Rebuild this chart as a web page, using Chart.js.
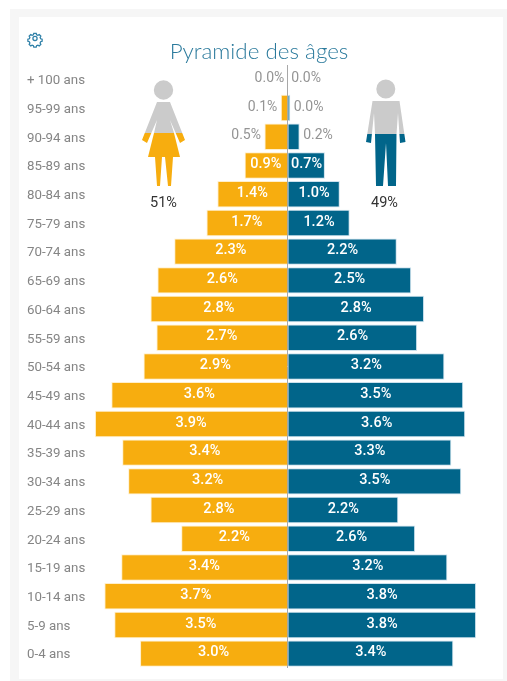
<!DOCTYPE html>
<html><head><meta charset="utf-8">
<script src="https://cdn.jsdelivr.net/npm/chart.js@4"></script>
<style>
html,body{margin:0;padding:0;background:#fff;width:507px;height:681px;overflow:hidden}
#outer{position:absolute;left:10px;top:9px;width:497px;height:672px;background:#f6f6f6}
#card{position:absolute;left:19px;top:17px;width:484px;height:662px;background:#fff}
canvas{position:absolute;left:0;top:0}
#title{position:absolute;left:17px;width:484px;top:37px;text-align:center;font:300 22.4px Lato,sans-serif;color:#2b7a9c}
svg{position:absolute;left:0;top:0}
.pct{font:14.5px Roboto,sans-serif;fill:#333;text-anchor:middle}
</style></head><body>
<div id="outer"></div><div id="card"></div>
<div style="position:absolute;left:0;top:0;width:507px;height:681px"><canvas id="c" width="507" height="681"></canvas></div>
<div id="title">Pyramide des âges</div>
<svg width="507" height="681">
<defs>
<clipPath id="w"><circle cx="163.5" cy="90" r="9.7"/>
<polygon points="157,102 170,102 185,140 180,143 170,120 174,133 180,157 173,157 171,186 168,186 165,157 162,157 160,186 157,186 155,157 148,157 154,133 157,120 147,143 142,140"/></clipPath>
<clipPath id="m"><circle cx="385.8" cy="89" r="9.5"/>
<polygon points="372.5,101 399.5,101 405.5,142 400,143 398,113 396.5,134 396,186 388,186 386,143 383,186 376,186 375,134 374,113 371,143 366,142"/></clipPath>
</defs>
<g clip-path="url(#w)"><rect x="135" y="75" width="60" height="58" fill="#cbcbcb"/><rect x="135" y="133" width="60" height="56" fill="#f7ad0f"/></g>
<g clip-path="url(#m)"><rect x="360" y="75" width="50" height="59" fill="#cbcbcb"/><rect x="360" y="134" width="50" height="55" fill="#01658a"/></g>
<text class="pct" x="163.5" y="207">51%</text><text class="pct" x="384.5" y="207">49%</text>
<g fill="none" stroke="#2f80a8" stroke-width="1.6" transform="translate(35 38.5) scale(.8) translate(-35 -39)">
<circle cx="35" cy="39" r="2.6"/>
<path d="M33.5 32.5h3l.5 1.8 1.6.7 1.7-.9 2 2-.9 1.7.7 1.6 1.8.5v2.6l-1.8.5-.7 1.6.9 1.7-2 2-1.7-.9-1.6.7-.5 1.8h-3l-.5-1.8-1.6-.7-1.7.9-2-2 .9-1.7-.7-1.6-1.8-.5v-2.6l1.8-.5.7-1.6-.9-1.7 2-2 1.7.9 1.6-.7z"/>
</g>
</svg>
<script>
const categories=["+ 100 ans","95-99 ans","90-94 ans","85-89 ans","80-84 ans","75-79 ans","70-74 ans","65-69 ans","60-64 ans","55-59 ans","50-54 ans","45-49 ans","40-44 ans","35-39 ans","30-34 ans","25-29 ans","20-24 ans","15-19 ans","10-14 ans","5-9 ans","0-4 ans"];
const femmes=[0,0.14,0.47,0.87,1.42,1.64,2.29,2.63,2.77,2.65,2.91,3.56,3.89,3.34,3.22,2.77,2.15,3.36,3.70,3.50,2.98];
const hommes=[0,0.05,0.24,0.75,1.05,1.25,2.2,2.49,2.75,2.61,3.16,3.54,3.58,3.3,3.5,2.23,2.57,3.22,3.8,3.8,3.34];
const femmesTxt=["0.0%","0.1%","0.5%","0.9%","1.4%","1.7%","2.3%","2.6%","2.8%","2.7%","2.9%","3.6%","3.9%","3.4%","3.2%","2.8%","2.2%","3.4%","3.7%","3.5%","3.0%"];
const hommesTxt=["0.0%","0.0%","0.2%","0.7%","1.0%","1.2%","2.2%","2.5%","2.8%","2.6%","3.2%","3.5%","3.6%","3.3%","3.5%","2.2%","2.6%","3.2%","3.8%","3.8%","3.4%"];
const labelPlugin={id:'barText',afterDatasetsDraw(chart){
 const ctx=chart.ctx;ctx.save();ctx.textBaseline='middle';
 [femmesTxt,hommesTxt].forEach((txt,d)=>{
  chart.getDatasetMeta(d).data.forEach((bar,i)=>{
   const w=Math.abs(bar.x-bar.base);const y=bar.y-1;
   if(w<30){ctx.fillStyle='#949494';ctx.font='14px Roboto,sans-serif';
    ctx.textAlign=d===0?'right':'left';
    ctx.fillText(txt[i],bar.x+(d===0?-3.5:3.5),y);
   }else{ctx.fillStyle='#fff';ctx.font='500 14.5px Roboto,sans-serif';ctx.textAlign='center';
    ctx.fillText(txt[i],(bar.x+bar.base)/2,y);}
  });
 });
 ctx.restore();
}};
new Chart(document.getElementById('c'),{type:'bar',
 data:{labels:categories,datasets:[
  {label:'Femmes',data:femmes.map(v=>-v),backgroundColor:'#f7ad0f',borderColor:'rgba(255,225,160,.55)',borderWidth:{top:1,bottom:1,left:1},borderSkipped:false},
  {label:'Hommes',data:hommes,backgroundColor:'#01658a',borderColor:'rgba(170,205,225,.6)',borderWidth:{top:1,bottom:1,right:1},borderSkipped:false}]},
 options:{indexAxis:'y',responsive:false,animation:false,
  layout:{padding:{left:27,right:21,top:65,bottom:13}},
  datasets:{bar:{categoryPercentage:1,barPercentage:0.92}},
  plugins:{legend:{display:false},title:{display:false},tooltip:{enabled:false}},
  scales:{
   x:{stacked:true,min:-4,max:4,ticks:{display:false,stepSize:1},border:{display:false},
      grid:{drawTicks:false,lineWidth:1,color:c=>c.tick&&c.tick.value===0?'#a8a8a8':'rgba(0,0,0,0)'}},
   y:{stacked:true,border:{display:false},grid:{display:false},
      afterFit(s){s.width=62.5;},
      ticks:{crossAlign:'far',padding:0,labelOffset:1.5,autoSkip:false,color:'#858585',font:{family:'Roboto,sans-serif',size:13.3}}}
  }},
 plugins:[labelPlugin]});
</script>
</body></html>
